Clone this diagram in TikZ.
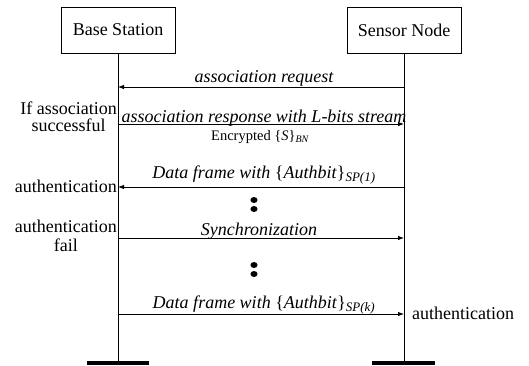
\documentclass[tikz,border=0pt]{standalone}
\usepackage{fontspec}
\setmainfont{Liberation Serif}
\usetikzlibrary{arrows.meta}
\begin{document}
\begin{tikzpicture}[x=1pt,y=-1pt,
  box/.style={draw,line width=0.7pt,minimum width=114pt,minimum height=46pt,inner sep=0pt,font=\fontsize{18}{20}\selectfont},
  lbl/.style={font=\fontsize{18}{20}\selectfont\itshape,inner sep=0pt,anchor=base},
  side/.style={font=\fontsize{18}{17}\selectfont,inner sep=0pt,align=center},
  msg/.style={line width=0.8pt,-{Latex[length=6pt,width=4.5pt]}},
  life/.style={line width=0.7pt},
  bar/.style={line width=4.5pt},
  dot/.style={fill=black,draw=none}]
\useasboundingbox (0,0) rectangle (529,365);
% actors
\node[box] (bs) at (118,30) {Base Station};
\node[box] (sn) at (404,30) {Sensor Node};
\coordinate (bsend) at (118,361);
\coordinate (snend) at (404,361);
\draw[life] (bs.south) -- (bsend);
\draw[life] (sn.south) -- (snend);
\draw[bar] ([xshift=-31pt,yshift=-2pt]bsend) -- ([xshift=31pt,yshift=-2pt]bsend);
\draw[bar] ([xshift=-32pt,yshift=-2pt]snend) -- ([xshift=31pt,yshift=-2pt]snend);
% lifeline points
\coordinate (a1) at (118,87);  \coordinate (b1) at (404,87);
\coordinate (a2) at (118,124); \coordinate (b2) at (404,124);
\coordinate (a3) at (118,187); \coordinate (b3) at (404,187);
\coordinate (a4) at (118,238); \coordinate (b4) at (404,238);
\coordinate (a5) at (118,314); \coordinate (b5) at (404,314);
% messages
\draw[msg] (b1) -- (a1);
\node[lbl] (m1) at (264,82) {association request};
\draw[msg] (a2) -- (b2);
\node[lbl] (m2) at (264,122) {association response with L-bits stream};
\node[inner sep=0pt,anchor=base,font=\fontsize{14.5}{16}\selectfont] (m2b) at (260,140) {Encrypted \{\textit{S}\}$_{\textit{\fontsize{10}{11}\selectfont BN}}$};
\draw[msg] (b3) -- (a3);
\node[lbl] (m3) at (264,178) {Data frame with \textup{\{}Authbit\textup{\}}$_{\textit{\fontsize{13}{14}\selectfont SP(1)}}$};
\draw[msg] (a4) -- (b4);
\node[lbl] (m4) at (259,235) {Synchronization};
\draw[msg] (a5) -- (b5);
\node[lbl] (m5) at (264,308) {Data frame with \textup{\{}Authbit\textup{\}}$_{\textit{\fontsize{13}{14}\selectfont SP(k)}}$};
% dots
\fill[dot] (254,200) ellipse [x radius=3.6pt,y radius=3pt];
\fill[dot] (254,209) ellipse [x radius=3.6pt,y radius=3pt];
\fill[dot] (254,265) ellipse [x radius=3.6pt,y radius=3pt];
\fill[dot] (254,274) ellipse [x radius=3.6pt,y radius=3pt];
% side notes
\node[side,anchor=east] (s1) at (117,117) {If association\\successful};
\node[side,anchor=east] (s2) at (117,186) {authentication};
\node[side,anchor=east,font=\fontsize{18}{19}\selectfont] (s3) at (117,236) {authentication\\fail};
\node[side,anchor=west] (s4) at (412,313) {authentication};
\end{tikzpicture}
\end{document}
